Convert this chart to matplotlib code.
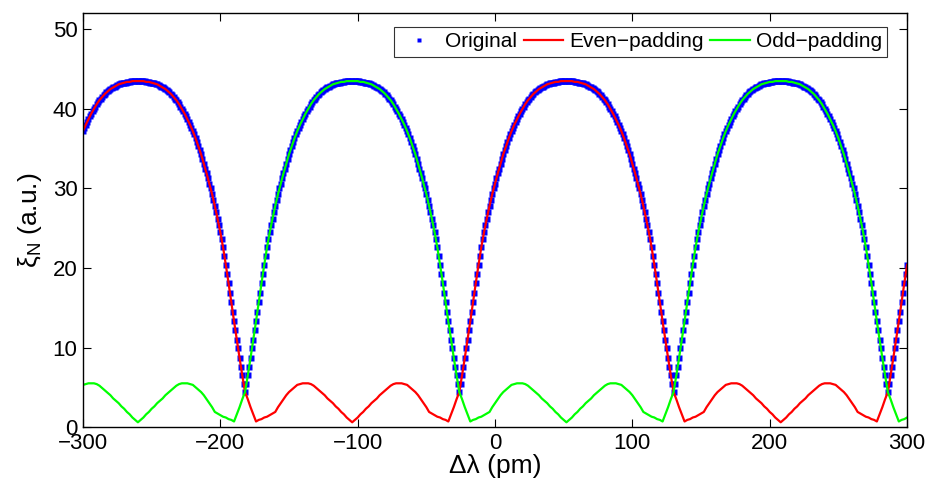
import numpy as np
import matplotlib
matplotlib.use("Agg")
from matplotlib import pyplot as plt

plt.rcParams['font.family'] = ['Liberation Sans', 'DejaVu Sans']
plt.rcParams['mathtext.fontset'] = 'custom'
plt.rcParams['mathtext.rm'] = 'Liberation Sans'
plt.rcParams['mathtext.it'] = 'Liberation Sans:italic'

# wavelength detuning grids (pm): dots every 1 pm, padded curves every 2 pm
dlambda_orig = np.arange(-300, 301, 1)
dlambda = np.arange(-300, 301, 2)

# values
original = [
    # -300 .. -182
    37.2, 37.6, 38.0, 38.4, 38.7, 39.1, 39.4, 39.7, 40.0, 40.3, 40.6, 40.9, 41.1, 41.3, 41.5, 41.7, 41.9, 42.1, 42.2, 42.4,
    42.5, 42.6, 42.7, 42.8, 42.9, 43.0, 43.1, 43.1, 43.2, 43.3, 43.3, 43.3, 43.4, 43.4, 43.4, 43.5, 43.5, 43.5, 43.5, 43.5,
    43.5, 43.5, 43.5, 43.5, 43.5, 43.5, 43.4, 43.4, 43.4, 43.3, 43.3, 43.3, 43.2, 43.1, 43.1, 43.0, 42.9, 42.8, 42.7, 42.6,
    42.5, 42.4, 42.2, 42.1, 41.9, 41.7, 41.5, 41.3, 41.1, 40.9, 40.6, 40.3, 40.0, 39.7, 39.4, 39.1, 38.7, 38.4, 38.0, 37.6,
    37.2, 36.8, 36.3, 35.8, 35.3, 34.8, 34.3, 33.7, 33.1, 32.5, 31.9, 31.3, 30.6, 30.0, 29.3, 28.6, 27.8, 27.0, 26.2, 25.4,
    24.5, 23.6, 22.6, 21.5, 20.4, 19.3, 18.1, 16.9, 15.7, 14.5, 13.3, 12.2, 11.0, 9.9, 8.7, 7.6, 6.5, 5.4, 4.4,
    # -181 .. -26
    5.4, 6.5, 7.6, 8.7, 9.9, 11.0, 12.2, 13.3, 14.5, 15.7, 16.9, 18.1, 19.3, 20.4, 21.5, 22.6, 23.6, 24.5,
    25.4, 26.2, 27.0, 27.8, 28.6, 29.3, 30.0, 30.6, 31.3, 31.9, 32.5, 33.1, 33.7, 34.3, 34.8, 35.3, 35.8, 36.3, 36.8, 37.2,
    37.6, 38.0, 38.4, 38.7, 39.1, 39.4, 39.7, 40.0, 40.3, 40.6, 40.9, 41.1, 41.3, 41.5, 41.7, 41.9, 42.1, 42.2, 42.4, 42.5,
    42.6, 42.7, 42.8, 42.9, 43.0, 43.1, 43.1, 43.2, 43.3, 43.3, 43.3, 43.4, 43.4, 43.4, 43.5, 43.5, 43.5, 43.5, 43.5,
    43.5, 43.5, 43.5, 43.5, 43.5, 43.5, 43.4, 43.4, 43.4, 43.3, 43.3, 43.3, 43.2, 43.1, 43.1, 43.0, 42.9, 42.8, 42.7, 42.6,
    42.5, 42.4, 42.2, 42.1, 41.9, 41.7, 41.5, 41.3, 41.1, 40.9, 40.6, 40.3, 40.0, 39.7, 39.4, 39.1, 38.7, 38.4, 38.0, 37.6,
    37.2, 36.8, 36.3, 35.8, 35.3, 34.8, 34.3, 33.7, 33.1, 32.5, 31.9, 31.3, 30.6, 30.0, 29.3, 28.6, 27.8, 27.0, 26.2, 25.4,
    24.5, 23.6, 22.6, 21.5, 20.4, 19.3, 18.1, 16.9, 15.7, 14.5, 13.3, 12.2, 11.0, 9.9, 8.7, 7.6, 6.5, 5.4, 4.4,
    # -25 .. 130
    5.4, 6.5, 7.6, 8.7, 9.9, 11.0, 12.2, 13.3, 14.5, 15.7, 16.9, 18.1, 19.3, 20.4, 21.5, 22.6, 23.6, 24.5,
    25.4, 26.2, 27.0, 27.8, 28.6, 29.3, 30.0, 30.6, 31.3, 31.9, 32.5, 33.1, 33.7, 34.3, 34.8, 35.3, 35.8, 36.3, 36.8, 37.2,
    37.6, 38.0, 38.4, 38.7, 39.1, 39.4, 39.7, 40.0, 40.3, 40.6, 40.9, 41.1, 41.3, 41.5, 41.7, 41.9, 42.1, 42.2, 42.4, 42.5,
    42.6, 42.7, 42.8, 42.9, 43.0, 43.1, 43.1, 43.2, 43.3, 43.3, 43.3, 43.4, 43.4, 43.4, 43.5, 43.5, 43.5, 43.5, 43.5,
    43.5, 43.5, 43.5, 43.5, 43.5, 43.5, 43.4, 43.4, 43.4, 43.3, 43.3, 43.3, 43.2, 43.1, 43.1, 43.0, 42.9, 42.8, 42.7, 42.6,
    42.5, 42.4, 42.2, 42.1, 41.9, 41.7, 41.5, 41.3, 41.1, 40.9, 40.6, 40.3, 40.0, 39.7, 39.4, 39.1, 38.7, 38.4, 38.0, 37.6,
    37.2, 36.8, 36.3, 35.8, 35.3, 34.8, 34.3, 33.7, 33.1, 32.5, 31.9, 31.3, 30.6, 30.0, 29.3, 28.6, 27.8, 27.0, 26.2, 25.4,
    24.5, 23.6, 22.6, 21.5, 20.4, 19.3, 18.1, 16.9, 15.7, 14.5, 13.3, 12.2, 11.0, 9.9, 8.7, 7.6, 6.5, 5.4, 4.4,
    # 131 .. 286
    5.4, 6.5, 7.6, 8.7, 9.9, 11.0, 12.2, 13.3, 14.5, 15.7, 16.9, 18.1, 19.3, 20.4, 21.5, 22.6, 23.6, 24.5,
    25.4, 26.2, 27.0, 27.8, 28.6, 29.3, 30.0, 30.6, 31.3, 31.9, 32.5, 33.1, 33.7, 34.3, 34.8, 35.3, 35.8, 36.3, 36.8, 37.2,
    37.6, 38.0, 38.4, 38.7, 39.1, 39.4, 39.7, 40.0, 40.3, 40.6, 40.9, 41.1, 41.3, 41.5, 41.7, 41.9, 42.1, 42.2, 42.4, 42.5,
    42.6, 42.7, 42.8, 42.9, 43.0, 43.1, 43.1, 43.2, 43.3, 43.3, 43.3, 43.4, 43.4, 43.4, 43.5, 43.5, 43.5, 43.5, 43.5,
    43.5, 43.5, 43.5, 43.5, 43.5, 43.5, 43.4, 43.4, 43.4, 43.3, 43.3, 43.3, 43.2, 43.1, 43.1, 43.0, 42.9, 42.8, 42.7, 42.6,
    42.5, 42.4, 42.2, 42.1, 41.9, 41.7, 41.5, 41.3, 41.1, 40.9, 40.6, 40.3, 40.0, 39.7, 39.4, 39.1, 38.7, 38.4, 38.0, 37.6,
    37.2, 36.8, 36.3, 35.8, 35.3, 34.8, 34.3, 33.7, 33.1, 32.5, 31.9, 31.3, 30.6, 30.0, 29.3, 28.6, 27.8, 27.0, 26.2, 25.4,
    24.5, 23.6, 22.6, 21.5, 20.4, 19.3, 18.1, 16.9, 15.7, 14.5, 13.3, 12.2, 11.0, 9.9, 8.7, 7.6, 6.5, 5.4, 4.4,
    # 287 .. 300
    5.4, 6.5, 7.6, 8.7, 9.9, 11.0, 12.2, 13.3, 14.5, 15.7, 16.9, 18.1, 19.3, 20.4,
]

even_padding = [
    37.2, 38.0, 38.7, 39.4, 40.0, 40.6, 41.1, 41.5, 41.9, 42.2, 42.5, 42.7, 42.9, 43.1, 43.2, 43.3, 43.4, 43.4, 43.5, 43.5,
    43.5, 43.5, 43.5, 43.4, 43.4, 43.3, 43.2, 43.1, 42.9, 42.7, 42.5, 42.2, 41.9, 41.5, 41.1, 40.6, 40.0, 39.4, 38.7, 38.0,
    37.2, 36.3, 35.3, 34.3, 33.1, 31.9, 30.6, 29.3, 27.8, 26.2, 24.5, 22.6, 20.4, 18.1, 15.7, 13.3, 11.0, 8.7, 6.5, 4.4,
    3.5, 2.5, 1.6, 0.7, 0.9, 1.0, 1.2, 1.3, 1.5, 1.7, 1.9, 2.5, 3.0, 3.5, 4.0, 4.4, 4.7, 5.0, 5.3, 5.4,
    5.5, 5.5, 5.5, 5.4, 5.2, 4.9, 4.6, 4.3, 4.0, 3.6, 3.3, 3.0, 2.6, 2.3, 1.9, 1.6, 1.2, 0.9, 0.6,
    0.9, 1.2, 1.6, 1.9, 2.3, 2.6, 3.0, 3.3, 3.6, 4.0, 4.3, 4.6, 4.9, 5.2, 5.4, 5.5, 5.5, 5.5, 5.4, 5.3,
    5.0, 4.7, 4.4, 4.0, 3.5, 3.0, 2.5, 1.9, 1.7, 1.5, 1.3, 1.2, 1.0, 0.9, 0.7, 1.6, 2.5, 3.5, 4.4,
    6.5, 8.7, 11.0, 13.3, 15.7, 18.1, 20.4, 22.6, 24.5, 26.2, 27.8, 29.3, 30.6, 31.9, 33.1, 34.3, 35.3, 36.3, 37.2, 38.0,
    38.7, 39.4, 40.0, 40.6, 41.1, 41.5, 41.9, 42.2, 42.5, 42.7, 42.9, 43.1, 43.2, 43.3, 43.4, 43.4, 43.5, 43.5, 43.5,
    43.5, 43.5, 43.4, 43.4, 43.3, 43.2, 43.1, 42.9, 42.7, 42.5, 42.2, 41.9, 41.5, 41.1, 40.6, 40.0, 39.4, 38.7, 38.0, 37.2,
    36.3, 35.3, 34.3, 33.1, 31.9, 30.6, 29.3, 27.8, 26.2, 24.5, 22.6, 20.4, 18.1, 15.7, 13.3, 11.0, 8.7, 6.5, 4.4,
    3.5, 2.5, 1.6, 0.7, 0.9, 1.0, 1.2, 1.3, 1.5, 1.7, 1.9, 2.5, 3.0, 3.5, 4.0, 4.4, 4.7, 5.0, 5.3, 5.4,
    5.5, 5.5, 5.5, 5.4, 5.2, 4.9, 4.6, 4.3, 4.0, 3.6, 3.3, 3.0, 2.6, 2.3, 1.9, 1.6, 1.2, 0.9, 0.6,
    0.9, 1.2, 1.6, 1.9, 2.3, 2.6, 3.0, 3.3, 3.6, 4.0, 4.3, 4.6, 4.9, 5.2, 5.4, 5.5, 5.5, 5.5, 5.4, 5.3,
    5.0, 4.7, 4.4, 4.0, 3.5, 3.0, 2.5, 1.9, 1.7, 1.5, 1.3, 1.2, 1.0, 0.9, 0.7, 1.6, 2.5, 3.5, 4.4,
    6.5, 8.7, 11.0, 13.3, 15.7, 18.1, 20.4,
]

odd_padding = [
    5.3, 5.4, 5.5, 5.5, 5.5, 5.4, 5.2, 4.9, 4.6, 4.3, 4.0, 3.6, 3.3, 3.0, 2.6, 2.3, 1.9, 1.6, 1.2, 0.9,
    0.6, 0.9, 1.2, 1.6, 1.9, 2.3, 2.6, 3.0, 3.3, 3.6, 4.0, 4.3, 4.6, 4.9, 5.2, 5.4, 5.5, 5.5, 5.5, 5.4,
    5.3, 5.0, 4.7, 4.4, 4.0, 3.5, 3.0, 2.5, 1.9, 1.7, 1.5, 1.3, 1.2, 1.0, 0.9, 0.7, 1.6, 2.5, 3.5, 4.4,
    6.5, 8.7, 11.0, 13.3, 15.7, 18.1, 20.4, 22.6, 24.5, 26.2, 27.8, 29.3, 30.6, 31.9, 33.1, 34.3, 35.3, 36.3, 37.2, 38.0,
    38.7, 39.4, 40.0, 40.6, 41.1, 41.5, 41.9, 42.2, 42.5, 42.7, 42.9, 43.1, 43.2, 43.3, 43.4, 43.4, 43.5, 43.5, 43.5,
    43.5, 43.5, 43.4, 43.4, 43.3, 43.2, 43.1, 42.9, 42.7, 42.5, 42.2, 41.9, 41.5, 41.1, 40.6, 40.0, 39.4, 38.7, 38.0, 37.2,
    36.3, 35.3, 34.3, 33.1, 31.9, 30.6, 29.3, 27.8, 26.2, 24.5, 22.6, 20.4, 18.1, 15.7, 13.3, 11.0, 8.7, 6.5, 4.4,
    3.5, 2.5, 1.6, 0.7, 0.9, 1.0, 1.2, 1.3, 1.5, 1.7, 1.9, 2.5, 3.0, 3.5, 4.0, 4.4, 4.7, 5.0, 5.3, 5.4,
    5.5, 5.5, 5.5, 5.4, 5.2, 4.9, 4.6, 4.3, 4.0, 3.6, 3.3, 3.0, 2.6, 2.3, 1.9, 1.6, 1.2, 0.9, 0.6,
    0.9, 1.2, 1.6, 1.9, 2.3, 2.6, 3.0, 3.3, 3.6, 4.0, 4.3, 4.6, 4.9, 5.2, 5.4, 5.5, 5.5, 5.5, 5.4, 5.3,
    5.0, 4.7, 4.4, 4.0, 3.5, 3.0, 2.5, 1.9, 1.7, 1.5, 1.3, 1.2, 1.0, 0.9, 0.7, 1.6, 2.5, 3.5, 4.4,
    6.5, 8.7, 11.0, 13.3, 15.7, 18.1, 20.4, 22.6, 24.5, 26.2, 27.8, 29.3, 30.6, 31.9, 33.1, 34.3, 35.3, 36.3, 37.2, 38.0,
    38.7, 39.4, 40.0, 40.6, 41.1, 41.5, 41.9, 42.2, 42.5, 42.7, 42.9, 43.1, 43.2, 43.3, 43.4, 43.4, 43.5, 43.5, 43.5,
    43.5, 43.5, 43.4, 43.4, 43.3, 43.2, 43.1, 42.9, 42.7, 42.5, 42.2, 41.9, 41.5, 41.1, 40.6, 40.0, 39.4, 38.7, 38.0, 37.2,
    36.3, 35.3, 34.3, 33.1, 31.9, 30.6, 29.3, 27.8, 26.2, 24.5, 22.6, 20.4, 18.1, 15.7, 13.3, 11.0, 8.7, 6.5, 4.4,
    3.5, 2.5, 1.6, 0.7, 0.9, 1.0, 1.2,
]

xticks = [-300, -200, -100, 0, 100, 200, 300]
yticks = [0, 10, 20, 30, 40, 50]

fig = plt.figure(figsize=(9.27, 4.82), dpi=100)
ax = fig.add_axes([0.0895, 0.114, 0.889, 0.858])

ax.plot(dlambda_orig, original, 's', color='#0000ff', ms=4.2, mec='none', label="Original")
ax.plot(dlambda, even_padding, '-', color='#ff0000', lw=1.6, label="Even\u2212padding")
ax.plot(dlambda, odd_padding, '-', color='#00ff00', lw=1.6, label="Odd\u2212padding")

ax.set_xlim(-300, 300)
ax.set_ylim(0, 52)
ax.set_xticks(xticks)
ax.set_yticks(yticks)
ax.tick_params(direction='in', length=6, width=0.8, labelsize=16, top=True, right=True, pad=4)
for s in ax.spines.values():
    s.set_linewidth(1.0)

ax.set_xlabel("\u0394\u03bb (pm)", fontsize=19, labelpad=0)
ax.set_ylabel(r"$\mathregular{\xi_N}$ (a.u.)", fontsize=19, labelpad=6)

leg = ax.legend(loc='upper right', bbox_to_anchor=(0.976, 0.967), ncol=3, fontsize=15,
                frameon=True, fancybox=False, edgecolor='black', borderaxespad=0,
                handlelength=1.9, handletextpad=0.3, columnspacing=0.3, borderpad=0.25,
                markerscale=0.8, numpoints=1)
leg.get_frame().set_linewidth(0.8)

fig.savefig("out.png", dpi=100)
